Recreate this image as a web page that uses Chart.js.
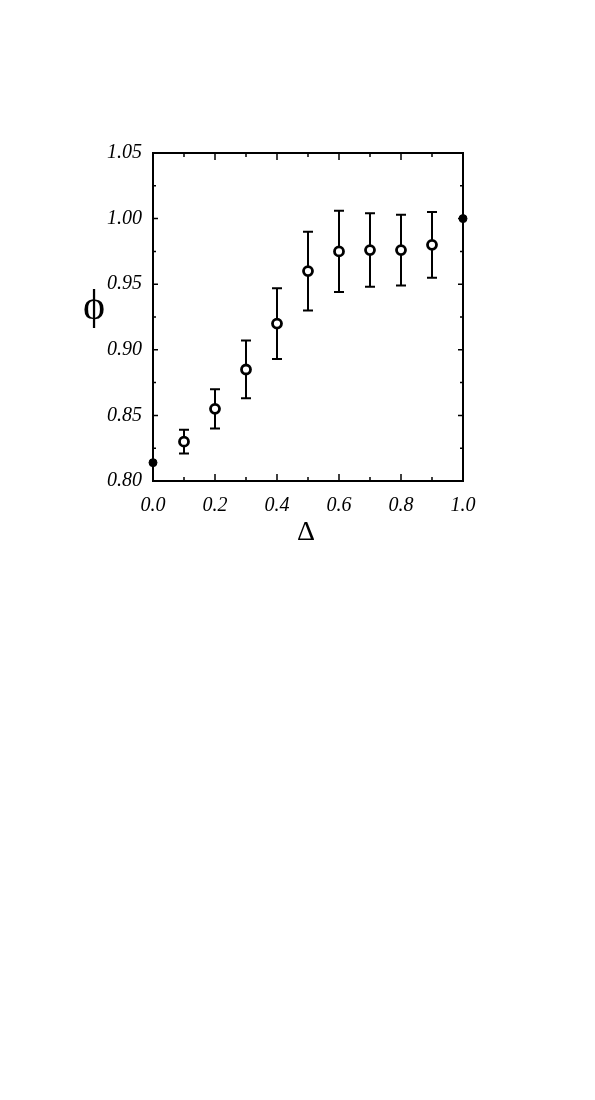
<!DOCTYPE html>
<html>
<head>
<meta charset="utf-8">
<script src="https://cdn.jsdelivr.net/npm/chart.js@4.4.1/dist/chart.umd.min.js"></script>
<style>
  html, body { margin: 0; padding: 0; background: #fff; }
  #wrap { width: 595px; height: 1100px; }
</style>
</head>
<body>
<div id="wrap"><canvas id="chart" width="595" height="1100"></canvas></div>
<script>
// --- data ---
const deltaValues = [0.1, 0.2, 0.3, 0.4, 0.5, 0.6, 0.7, 0.8, 0.9];
const phiValues   = [0.830, 0.855, 0.885, 0.920, 0.960, 0.975, 0.976, 0.976, 0.980];
const phiLow      = [0.821, 0.840, 0.863, 0.893, 0.930, 0.944, 0.948, 0.949, 0.955];
const phiHigh     = [0.839, 0.870, 0.907, 0.947, 0.990, 1.006, 1.004, 1.003, 1.005];

// limiting cases (filled symbols)
const endDelta = [0.0, 1.0];
const endPhi   = [0.814, 1.000];

const xMin = 0.0, xMax = 1.0, xStep = 0.1;
const yMin = 0.80, yMax = 1.05, yStep = 0.025;

const serif = '"Liberation Serif", "DejaVu Serif", serif';

// inward ticks, frame, error bars, axis symbols
const framePlugin = {
  id: 'framePlugin',
  beforeDatasetsDraw(chart) {
    const { ctx, chartArea: a, scales: { x, y } } = chart;
    ctx.save();
    ctx.strokeStyle = '#000';
    ctx.lineWidth = 2;
    ctx.strokeRect(a.left, a.top, a.right - a.left, a.bottom - a.top);

    ctx.lineWidth = 1.5;
    x.ticks.forEach(t => {
      const px = x.getPixelForValue(t.value);
      const len = t.label !== '' ? 7 : 4;
      ctx.beginPath();
      ctx.moveTo(px, a.bottom); ctx.lineTo(px, a.bottom - len);
      ctx.moveTo(px, a.top); ctx.lineTo(px, a.top + len);
      ctx.stroke();
    });
    y.ticks.forEach(t => {
      const py = y.getPixelForValue(t.value);
      const len = t.label !== '' ? 5 : 3;
      ctx.beginPath();
      ctx.moveTo(a.left, py); ctx.lineTo(a.left + len, py);
      ctx.moveTo(a.right, py); ctx.lineTo(a.right - len, py);
      ctx.stroke();
    });

    // error bars
    ctx.lineWidth = 2;
    deltaValues.forEach((d, i) => {
      const px = x.getPixelForValue(d);
      const lo = y.getPixelForValue(phiLow[i]);
      const hi = y.getPixelForValue(phiHigh[i]);
      ctx.beginPath();
      ctx.moveTo(px, lo); ctx.lineTo(px, hi);
      ctx.moveTo(px - 5, lo); ctx.lineTo(px + 5, lo);
      ctx.moveTo(px - 5, hi); ctx.lineTo(px + 5, hi);
      ctx.stroke();
    });
    ctx.restore();
  },
  afterDraw(chart) {
    const { ctx, chartArea: a } = chart;
    ctx.save();
    ctx.fillStyle = '#000';
    ctx.textAlign = 'center';
    ctx.textBaseline = 'middle';
    ctx.font = '42px ' + serif;
    ctx.fillText('\u03D5', 94, 308);
    ctx.font = '28px ' + serif;
    ctx.fillText('\u0394', (a.left + a.right) / 2 - 2, 533);
    ctx.restore();
  }
};

new Chart(document.getElementById('chart'), {
  type: 'scatter',
  data: {
    datasets: [
      {
        label: 'phi',
        data: deltaValues.map((d, i) => ({ x: d, y: phiValues[i] })),
        pointStyle: 'circle',
        pointRadius: 4.5,
        pointBorderWidth: 2.8,
        pointBackgroundColor: '#fff',
        pointBorderColor: '#000',
        clip: false
      },
      {
        label: 'limits',
        data: endDelta.map((d, i) => ({ x: d, y: endPhi[i] })),
        pointStyle: 'circle',
        pointRadius: 4,
        pointBorderWidth: 1,
        pointBackgroundColor: '#000',
        pointBorderColor: '#000',
        clip: false
      }
    ]
  },
  options: {
    responsive: false,
    animation: false,
    devicePixelRatio: 1,
    layout: { padding: { left: 0, right: 132, top: 153, bottom: 0 } },
    plugins: { legend: { display: false }, tooltip: { enabled: false } },
    scales: {
      x: {
        type: 'linear',
        min: xMin, max: xMax,
        afterFit(s) { s.height = 619; },
        grid: { display: false, drawTicks: false },
        border: { display: false },
        ticks: {
          stepSize: xStep,
          padding: 13,
          color: '#000',
          maxRotation: 0,
          autoSkip: false,
          font: { family: serif, size: 20, style: 'italic' },
          callback: v => (Math.round(v * 10) % 2 === 0 ? v.toFixed(1) : '')
        }
      },
      y: {
        type: 'linear',
        min: yMin, max: yMax,
        afterFit(s) { s.width = 153; },
        grid: { display: false, drawTicks: false },
        border: { display: false },
        ticks: {
          stepSize: yStep,
          padding: 11,
          color: '#000',
          autoSkip: false,
          font: { family: serif, size: 20, style: 'italic' },
          callback: v => (Math.round(v * 1000) % 50 === 0 ? v.toFixed(2) : '')
        }
      }
    }
  },
  plugins: [framePlugin]
});
</script>
</body>
</html>
